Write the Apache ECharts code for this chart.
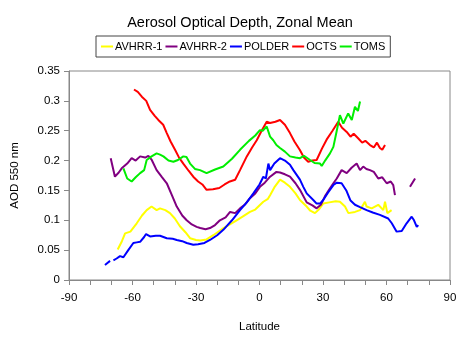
<!DOCTYPE html>
<html><head><meta charset="utf-8">
<script src="https://cdn.jsdelivr.net/npm/echarts@6/dist/echarts.min.js"></script>
<style>html,body{margin:0;padding:0;background:#fff}#c{width:474px;height:355px}</style>
</head><body><div id="c"></div>
<script>
const seriesNames = ['AVHRR-1','AVHRR-2','POLDER','OCTS','TOMS'];
const xTickLabels = [-90,-60,-30,0,30,60,90];

const avhrr1Lat = [-67,-65,-63.5,-61,-58,-55.5,-53.3,-51,-48.6,-47,-44.5,-42.3,-40,-37.6,-35,-32.8,-30,-28,-25,-21.8,-19,-17,-14,-10.8,-8,-4.5,-2,1.8,4,5,7,9.7,12,14.4,17,19.1,22.3,24,26.2,28,30.1,33,36,38,40.4,42,45.1,47.5,49.8,50.6,53,56.1,58.5,59.3,60.4,62.4];
const avhrr1Val = [0.051,0.065,0.078,0.081,0.095,0.108,0.117,0.123,0.117,0.12,0.117,0.112,0.103,0.09,0.08,0.07,0.067,0.066,0.068,0.075,0.082,0.087,0.093,0.1,0.106,0.114,0.118,0.131,0.136,0.142,0.155,0.168,0.163,0.156,0.145,0.134,0.123,0.116,0.112,0.118,0.128,0.13,0.132,0.131,0.123,0.112,0.114,0.117,0.131,0.123,0.12,0.126,0.117,0.131,0.112,0.117];

const avhrr2Lat = [-70.3,-68.3,-66.5,-65.1,-62.5,-60.4,-58.5,-56.4,-54,-52.5,-50.9,-48.6,-46,-43.8,-41.5,-39.1,-36.5,-34.4,-32,-29.7,-28,-25.5,-23.4,-21,-18.7,-16,-13.9,-11.5,-9.2,-7,-4.5,-2,0.2,2.5,5,8,9.7,12,14.4,17,19.1,22.3,25,27,29,30.9,33,34.9,36.5,38.8,41.2,43.5,45.9,47.5,49,50.5,52.2,54,56.1,58,60.1,62,63.2,64,67,71.1,73.5];
const avhrr2Val = [0.204,0.173,0.18,0.187,0.195,0.204,0.2,0.207,0.205,0.208,0.201,0.184,0.172,0.162,0.143,0.123,0.108,0.1,0.093,0.089,0.087,0.085,0.087,0.092,0.1,0.105,0.114,0.112,0.12,0.126,0.137,0.145,0.156,0.163,0.173,0.181,0.18,0.177,0.173,0.162,0.151,0.13,0.125,0.12,0.126,0.14,0.152,0.162,0.17,0.184,0.179,0.188,0.195,0.184,0.19,0.186,0.184,0.181,0.17,0.172,0.162,0.165,0.159,0.142,null,0.156,0.17];

const polderLat = [-73,-72,-70.6,-69.8,-69,-67.5,-65.9,-64.3,-62,-59.6,-58,-56.4,-54.5,-53.6,-51.7,-49,-47,-43.8,-41,-39.1,-36.5,-34.4,-31.3,-29,-26,-23.4,-20,-17.1,-13,-9.2,-6,-2.9,0,1.8,3,4.2,5,7,9.7,12,14.4,16,19.1,20.7,22.3,25.4,27,28.6,30.1,32.5,34.9,36.5,38.8,41,43,45.1,47.5,50.6,53.5,56.9,60.8,62.5,64.8,67.2,69.5,71.9,73,74.3,75];
const polderVal = [0.025,0.028,0.032,null,0.033,0.036,0.04,0.038,0.05,0.062,0.063,0.064,0.072,0.077,0.073,0.074,0.074,0.07,0.069,0.067,0.065,0.062,0.059,0.06,0.062,0.067,0.075,0.084,0.1,0.117,0.13,0.145,0.16,0.173,0.17,0.195,0.184,0.195,0.204,0.2,0.193,0.184,0.168,0.156,0.145,0.134,0.128,0.128,0.134,0.147,0.159,0.163,0.162,0.15,0.133,0.126,0.122,0.117,0.113,0.109,0.103,0.095,0.081,0.082,0.095,0.106,0.1,0.089,0.092];

const octsLat = [-59.3,-57.5,-55.6,-53.5,-51.7,-49.5,-47.8,-45.5,-43.8,-42,-39.9,-38,-36,-33.5,-31.3,-29,-27,-25,-22,-19,-16.5,-14,-11.5,-9.2,-6,-3.5,-1.3,1,3.4,5,7.5,9.7,12,14.4,16.5,19,21,23,25,27,29.5,31.7,34.5,37.2,39,41.2,43,44.5,46.7,48.5,50,52.2,54,55.5,56.9,58,59.3];
const octsVal = [0.319,0.315,0.307,0.3,0.285,0.275,0.268,0.26,0.246,0.232,0.218,0.205,0.195,0.183,0.173,0.165,0.16,0.151,0.152,0.154,0.16,0.165,0.168,0.184,0.207,0.222,0.234,0.25,0.265,0.263,0.265,0.268,0.26,0.246,0.232,0.218,0.205,0.198,0.2,0.201,0.22,0.235,0.25,0.265,0.255,0.248,0.24,0.245,0.237,0.23,0.233,0.226,0.222,0.23,0.221,0.218,0.226];

const tomsLat = [-64.3,-62.5,-60.4,-58.5,-56.4,-54.5,-53.3,-51,-48.6,-47,-45.4,-43,-40.7,-38.5,-36,-34.5,-32.8,-30.5,-28.1,-25,-21,-17.1,-13,-9.2,-5,-2,0.2,1.5,3.4,5,6.5,8,9.7,12,14.4,17,19.1,21,23.9,26,28.6,29.4,31,33.3,34.9,36.5,38,39.6,41.9,43.6,45.1,46.5,47.5];
const tomsVal = [0.187,0.17,0.165,0.172,0.179,0.184,0.201,0.207,0.212,0.21,0.207,0.2,0.198,0.201,0.207,0.206,0.195,0.186,0.184,0.179,0.185,0.19,0.203,0.218,0.233,0.242,0.251,0.25,0.257,0.24,0.234,0.226,0.221,0.215,0.207,0.205,0.204,0.208,0.201,0.196,0.195,0.191,0.2,0.212,0.223,0.25,0.276,0.262,0.279,0.268,0.29,0.283,0.299];

const colors = ['#ffff00','#800080','#0000ff','#ff0000','#00ee00'];
const lats = [avhrr1Lat, avhrr2Lat, polderLat, octsLat, tomsLat];
const vals = [avhrr1Val, avhrr2Val, polderVal, octsVal, tomsVal];

const chart = echarts.init(document.getElementById('c'), null, {renderer:'canvas'});
const font = 'Liberation Sans, Arial, sans-serif';
chart.setOption({
  animation: false,
  backgroundColor: '#fff',
  title: {text: 'Aerosol Optical Depth, Zonal Mean', left: 235, top: 10, textAlign: 'center',
    textStyle: {fontFamily: font, fontSize: 14.5, fontWeight: 'normal', color: '#000'}},
  legend: {data: seriesNames, left: 96, top: 36, orient: 'horizontal',
    padding: [5, 5, 5, 5], itemGap: 3, itemWidth: 12, itemHeight: 2, icon: 'rect',
    borderColor: '#444', borderWidth: 1,
    textStyle: {fontFamily: font, fontSize: 11, color: '#000', padding: [0,0,0,-3]}},
  grid: {left: 69, right: 24, top: 71, bottom: 75, show: true, borderColor: '#888', borderWidth: 1},
  xAxis: {type: 'value', min: -90, max: 90, interval: 10,
    name: 'Latitude', nameLocation: 'middle', nameGap: 41,
    nameTextStyle: {fontFamily: font, fontSize: 11.5, color: '#000'},
    axisLine: {onZero: false, lineStyle: {color: '#888'}},
    axisTick: {show: true, length: 5, lineStyle: {color: '#888'}},
    splitLine: {show: false},
    axisLabel: {fontFamily: font, fontSize: 11.5, color: '#000', margin: 12,
      formatter: v => xTickLabels.indexOf(v) >= 0 ? String(v) : ''}},
  yAxis: {type: 'value', min: 0, max: 0.35, interval: 0.05,
    name: 'AOD 550 nm', nameLocation: 'middle', nameGap: 48,
    nameTextStyle: {fontFamily: font, fontSize: 11.5, color: '#000'},
    axisLine: {show: true, onZero: false, lineStyle: {color: '#888'}},
    axisTick: {show: true, length: 5, lineStyle: {color: '#888'}},
    splitLine: {show: false},
    axisLabel: {fontFamily: font, fontSize: 11.5, color: '#000', margin: 9,
      formatter: v => String(+v.toFixed(2))}},
  series: seriesNames.map((n, i) => ({
    name: n, type: 'line', showSymbol: false, symbol: 'none', connectNulls: false,
    color: colors[i], lineStyle: {width: 2, color: colors[i]},
    data: lats[i].map((x, j) => [x, vals[i][j] === null ? '-' : vals[i][j]])
  }))
});
</script></body></html>
